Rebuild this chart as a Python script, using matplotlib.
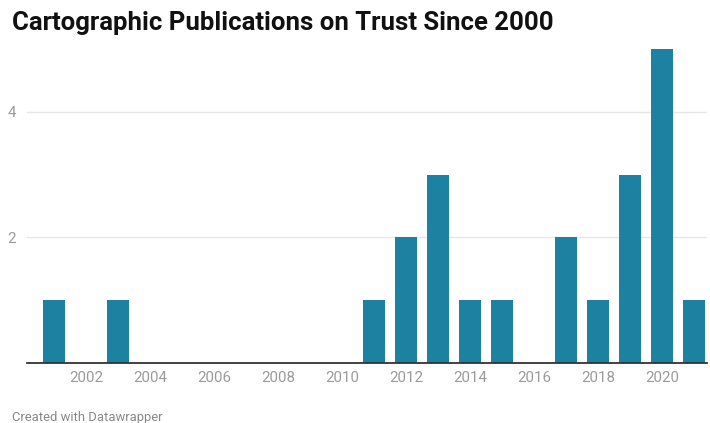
import matplotlib.pyplot as plt
import numpy as np

years = list(range(2001, 2022))
counts = [1, 0, 1, 0, 0, 0, 0, 0, 0, 0, 1, 2, 3, 1, 1, 0, 2, 1, 3, 5, 1]
xticks = [2002, 2004, 2006, 2008, 2010, 2012, 2014, 2016, 2018, 2020]
yticks = [2, 4]

plt.rcParams['font.family'] = ['Roboto', 'DejaVu Sans']

W, H = 710, 423
fig = plt.figure(figsize=(W / 100, H / 100), dpi=100)
left, right, bottom, top = 27, 707, 363, 49
ax = fig.add_axes([left / W, 1 - bottom / H, (right - left) / W, (bottom - top) / H])

ax.bar(years, counts, width=0.69, color="#1d81a2", zorder=3)

ax.set_xlim(2000.16, 2021.41)
ax.set_ylim(0, 5)
ax.set_xticks(xticks)
ax.set_yticks(yticks)
ax.tick_params(axis="both", length=0, labelsize=10.8, labelcolor="#9a9a9a")
ax.tick_params(axis="x", pad=6)
ax.tick_params(axis="y", pad=8)
ax.grid(axis="y", color="#e6e6e6", linewidth=1, zorder=0)
for s in ["top", "right", "left"]:
    ax.spines[s].set_visible(False)
ax.spines["bottom"].set_color("#333333")
ax.spines["bottom"].set_linewidth(1.3)
ax.spines["bottom"].set_zorder(4)

fig.text(12 / W, 1 - 23 / H, "Cartographic Publications on Trust Since 2000",
         fontsize=18.5, fontweight="bold", color="#111111", va="center", ha="left")
fig.text(12 / W, 1 - 417 / H, "Created with Datawrapper",
         fontsize=9.4, color="#888888", va="center", ha="left")

fig.savefig("out.png", dpi=100)
